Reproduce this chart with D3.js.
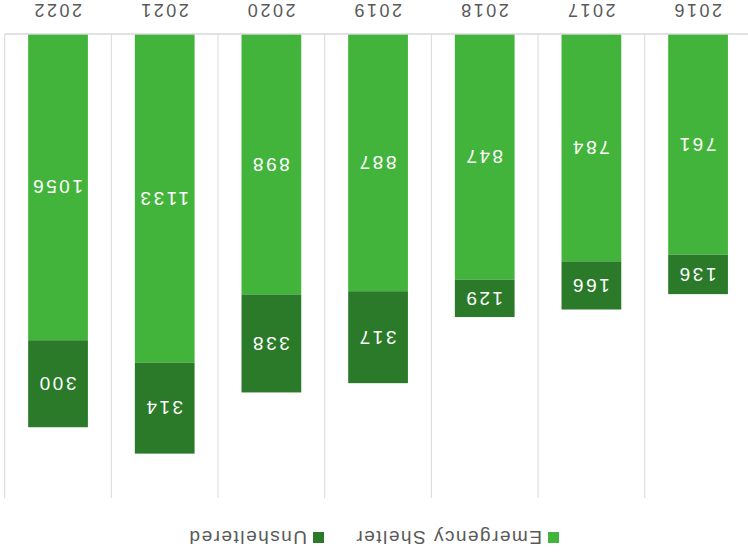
<!DOCTYPE html>
<html>
<head>
<meta charset="utf-8">
<script src="https://cdn.jsdelivr.net/npm/d3@7"></script>
<style>
  body { margin: 0; background: #fff; }
  svg { display: block; font-family: "Liberation Sans", Arial, sans-serif; }
</style>
</head>
<body>
<div id="chart"></div>
<script>
// data
const years = ["2016", "2017", "2018", "2019", "2020", "2021", "2022"];
const emergencyShelter = [761, 784, 847, 887, 898, 1133, 1056];
const unsheltered = [136, 166, 129, 317, 338, 314, 300];
const seriesNames = ["Emergency Shelter", "Unsheltered"];
const seriesColors = ["#43b43b", "#2a7a2a"];

const width = 748, height = 557;

const svg = d3.select("#chart").append("svg")
    .attr("width", width)
    .attr("height", height);

// the reference picture is turned upside down, so draw normally and flip it
const g = svg.append("g")
    .attr("transform", `rotate(180, ${width / 2}, ${height / 2})`);

const x = d3.scaleBand()
    .domain(years)
    .range([-3.4, 743.3]);

const y = d3.scaleLinear()
    .domain([0, 1600])
    .range([523, 59]);

const barW = x.bandwidth() * 0.56;

// vertical category separators
g.selectAll("line.grid")
    .data(d3.range(years.length + 1))
    .enter().append("line")
    .attr("class", "grid")
    .attr("x1", i => x.range()[0] + i * x.step())
    .attr("x2", i => x.range()[0] + i * x.step())
    .attr("y1", y(1600))
    .attr("y2", y(0))
    .style("stroke", "#d9d9d9")
    .style("stroke-width", 1);

// stacked data
const rows = years.map((yr, i) => ({
    year: yr,
    "Emergency Shelter": emergencyShelter[i],
    "Unsheltered": unsheltered[i]
}));
const stacked = d3.stack().keys(seriesNames)(rows);

const layers = g.selectAll("g.layer")
    .data(stacked)
    .enter().append("g")
    .attr("class", "layer")
    .style("fill", (d, i) => seriesColors[i]);

layers.selectAll("rect")
    .data(d => d)
    .enter().append("rect")
    .attr("x", d => x(d.data.year) + (x.bandwidth() - barW) / 2)
    .attr("width", barW)
    .attr("y", d => y(d[1]))
    .attr("height", d => y(d[0]) - y(d[1]));

layers.selectAll("text")
    .data(d => d)
    .enter().append("text")
    .attr("x", d => x(d.data.year) + x.bandwidth() / 2 + 1.25)
    .attr("y", d => (y(d[0]) + y(d[1])) / 2)
    .attr("dy", "0.35em")
    .attr("text-anchor", "middle")
    .style("fill", "#fff")
    .style("font-size", "19px")
    .style("letter-spacing", "2.5px")
    .text(d => d[1] - d[0]);

// baseline
g.append("line")
    .attr("x1", x.range()[0])
    .attr("x2", x.range()[1])
    .attr("y1", y(0))
    .attr("y2", y(0))
    .style("stroke", "#d9d9d9")
    .style("stroke-width", 1.5);

// year labels
g.selectAll("text.year")
    .data(years)
    .enter().append("text")
    .attr("class", "year")
    .attr("x", d => x(d) + x.bandwidth() / 2 + 1)
    .attr("y", 553)
    .attr("text-anchor", "middle")
    .style("fill", "#595959")
    .style("font-size", "18px")
    .style("letter-spacing", "2.5px")
    .text(d => d);

// legend
const legendItems = [
    { name: "Emergency Shelter", color: seriesColors[0], x: 189 },
    { name: "Unsheltered", color: seriesColors[1], x: 424 }
];
const legend = g.selectAll("g.legend")
    .data(legendItems)
    .enter().append("g")
    .attr("class", "legend")
    .attr("transform", d => `translate(${d.x},14)`);

legend.append("rect")
    .attr("width", 11)
    .attr("height", 11)
    .style("fill", d => d.color);

legend.append("text")
    .attr("x", 17)
    .attr("y", 5.5)
    .attr("dy", "0.35em")
    .style("fill", "#595959")
    .style("font-size", "19px")
    .style("letter-spacing", "1.5px")
    .text(d => d.name);
</script>
</body>
</html>
